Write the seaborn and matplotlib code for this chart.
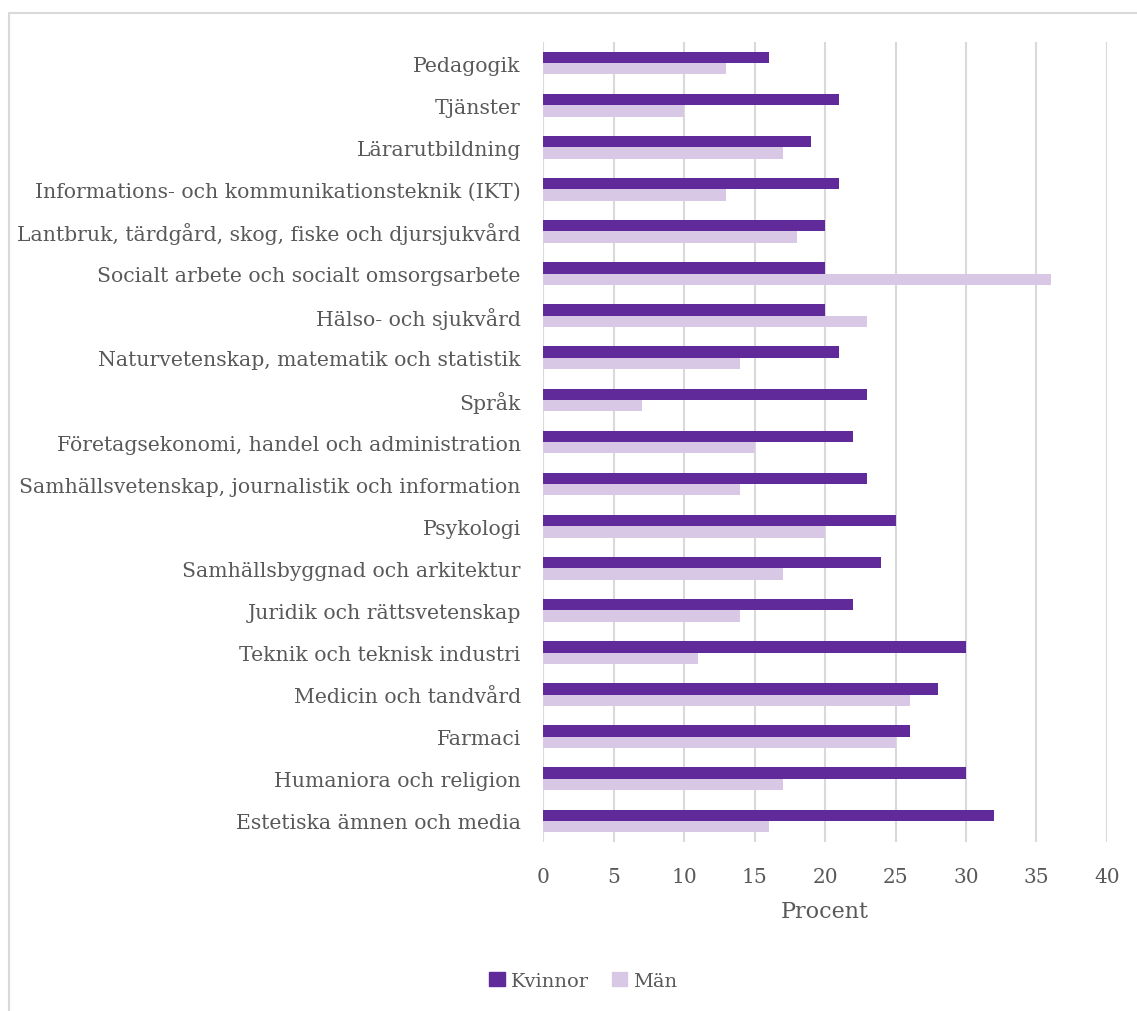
import matplotlib
matplotlib.use("Agg")
import matplotlib.pyplot as plt
import seaborn as sns
import pandas as pd
from matplotlib.patches import Rectangle

categories = [
    "Pedagogik",
    "Tjänster",
    "Lärarutbildning",
    "Informations- och kommunikationsteknik (IKT)",
    "Lantbruk, tärdgård, skog, fiske och djursjukvård",
    "Socialt arbete och socialt omsorgsarbete",
    "Hälso- och sjukvård",
    "Naturvetenskap, matematik och statistik",
    "Språk",
    "Företagsekonomi, handel och administration",
    "Samhällsvetenskap, journalistik och information",
    "Psykologi",
    "Samhällsbyggnad och arkitektur",
    "Juridik och rättsvetenskap",
    "Teknik och teknisk industri",
    "Medicin och tandvård",
    "Farmaci",
    "Humaniora och religion",
    "Estetiska ämnen och media",
]
kvinnor = [16, 21, 19, 21, 20, 20, 20, 21, 23, 22, 23, 25, 24, 22, 30, 28, 26, 30, 32]
man = [13, 10, 17, 13, 18, 36, 23, 14, 7, 15, 14, 20, 17, 14, 11, 26, 25, 17, 16]
series = ["Kvinnor", "Män"]
colors = ["#612a9a", "#d8c8e6"]
x_ticks = [0, 5, 10, 15, 20, 25, 30, 35, 40]

df = pd.DataFrame({
    "Område": categories * 2,
    "Procent": kvinnor + man,
    "Kön": [series[0]] * len(categories) + [series[1]] * len(categories),
})

sns.set_theme(style="white")
plt.rcParams["font.family"] = ["DejaVu Serif"]
text_color = "#595959"
grid_color = "#d9d9d9"

fig = plt.figure(figsize=(11.37, 10.12), dpi=100)
ax = fig.add_axes([0.4776, 0.167, 0.496, 0.7905])

sns.barplot(data=df, y="Område", x="Procent", hue="Kön", order=categories,
            hue_order=series, palette=colors, orient="h", width=0.54,
            saturation=1, linewidth=0, ax=ax, legend=False, zorder=3)

ax.set_xlim(0, 40)
ax.set_xticks(x_ticks)
ax.xaxis.grid(True, color=grid_color, linewidth=1.5, zorder=0)
ax.set_axisbelow(True)
for s in ax.spines.values():
    s.set_visible(False)
ax.tick_params(axis="x", length=0, pad=18, labelsize=14.5, labelcolor=text_color)
ax.tick_params(axis="y", length=0, pad=16, labelsize=14.7, labelcolor=text_color)
ax.set_ylabel("")
ax.set_xlabel("Procent", fontsize=16, color=text_color, labelpad=10)

handles = [Rectangle((0, 0), 1, 1, color=c) for c in colors]
fig.legend(handles, series, loc="center", bbox_to_anchor=(0.513, 0.030),
           ncol=2, frameon=False, fontsize=14, labelcolor=text_color,
           handlelength=0.8, handleheight=0.8, handletextpad=0.3,
           columnspacing=1.2)

fig.patches.append(Rectangle((9 / 1137, -0.05), 1.1, 1 - 14 / 1012 + 0.05,
                             transform=fig.transFigure, fill=False,
                             edgecolor=grid_color, linewidth=1.5))

fig.savefig("out.png", dpi=100)
